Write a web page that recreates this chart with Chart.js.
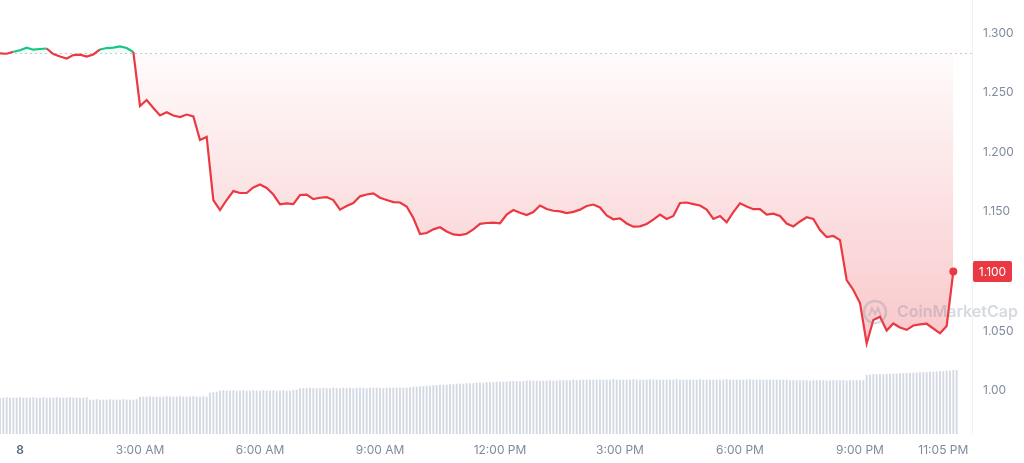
<!DOCTYPE html>
<html lang="en">
<head>
<meta charset="UTF-8">
<title>Price chart</title>
<script src="https://cdn.jsdelivr.net/npm/chart.js"></script>
<style>
  html, body { margin: 0; padding: 0; background: #fff; }
  #wrap { width: 1024px; height: 463px; position: relative; }
</style>
</head>
<body>
<div id="wrap"><canvas id="priceChart"></canvas></div>
<script>
// price every 10 minutes, first sample 11:30 PM of the day before
const priceStartHour = -0.5;
const priceStepHours = 1 / 6;
const prices = [
  1.2830, 1.2826, 1.2843, 1.2855, 1.2877, 1.2860, 1.2866, 1.2870, 1.2824, 1.2803, 1.2786, 1.2815,
  1.2818, 1.2803, 1.2820, 1.2862, 1.2874, 1.2878, 1.2888, 1.2874, 1.2841, 1.2388, 1.2438, 1.2371,
  1.2308, 1.2335, 1.2308, 1.2295, 1.2316, 1.2300, 1.2102, 1.2128, 1.1599, 1.1515, 1.1599, 1.1674,
  1.1658, 1.1658, 1.1704, 1.1729, 1.1700, 1.1645, 1.1563, 1.1570, 1.1565, 1.1641, 1.1645, 1.1607,
  1.1618, 1.1624, 1.1599, 1.1518, 1.1549, 1.1574, 1.1630, 1.1645, 1.1655, 1.1618, 1.1599, 1.1581,
  1.1578, 1.1544, 1.1448, 1.1314, 1.1322, 1.1353, 1.1370, 1.1335, 1.1310, 1.1305, 1.1316, 1.1352,
  1.1399, 1.1406, 1.1409, 1.1404, 1.1477, 1.1515, 1.1492, 1.1473, 1.1498, 1.1553, 1.1523, 1.1509,
  1.1504, 1.1490, 1.1500, 1.1518, 1.1549, 1.1561, 1.1536, 1.1469, 1.1437, 1.1445, 1.1402, 1.1375,
  1.1378, 1.1398, 1.1435, 1.1477, 1.1440, 1.1465, 1.1574, 1.1578, 1.1565, 1.1553, 1.1519, 1.1440,
  1.1465, 1.1412, 1.1498, 1.1571, 1.1544, 1.1522, 1.1523, 1.1477, 1.1484, 1.1465, 1.1402, 1.1377,
  1.1419, 1.1454, 1.1440, 1.1347, 1.1289, 1.1297, 1.1263, 1.0928, 1.0844, 1.0735, 1.0395, 1.0592,
  1.0620, 1.0504, 1.0563, 1.0529, 1.0510, 1.0546, 1.0555, 1.0561, 1.0521, 1.0481, 1.0542, 1.1000
];

// volume bars every 5 minutes (one row = one hour)
const volumeStartHour = -0.5;
const volumeStepHours = 1 / 12;
const volumes = [
  36, 36, 36.5, 36, 36, 36, 36.5, 36, 36, 36, 36.5, 36,
  36, 36.5, 36, 36, 36, 36.5, 36, 36, 36, 36.5, 36, 36,
  36, 36, 36.5, 34, 34, 34.5, 34, 34, 34, 34.5, 34, 34,
  34, 34.5, 34, 34, 34, 34.5, 37, 37, 37, 37.5, 37, 37,
  37, 37, 37.5, 37, 37, 37, 37.5, 37, 37, 37, 37.5, 37,
  37, 37.5, 37, 41, 41.5, 42, 43, 43.5, 43, 43, 43.5, 43,
  43, 43.5, 43, 43, 43.5, 43, 43, 43.5, 43, 43, 43.5, 43,
  43, 43.5, 43, 43, 43.5, 44, 45.5, 45.5, 45.5, 46, 45.5, 45.5,
  45.5, 46, 45.5, 45.5, 46, 45.5, 45.5, 46, 45.5, 46, 45.5, 46,
  46, 46, 45.5, 46, 46, 46, 46, 45.5, 46, 46, 46, 46,
  46, 46, 46, 46.5, 47, 47, 47.5, 47.5, 48, 48, 48.5, 48.5,
  49, 49, 49, 49.5, 49.5, 50, 50, 50, 50.5, 50.5, 50.5, 51,
  51, 51, 51.5, 51.5, 51.5, 52, 52, 52, 52, 52.5, 52.5, 52.5,
  52.5, 52.5, 53, 53, 53, 53, 53, 53, 53, 53.5, 53, 53,
  53.5, 53.5, 53.5, 53.5, 54, 53.5, 54, 54, 54, 54, 54, 54,
  54, 54, 54, 54, 54.5, 54, 54, 54, 54, 54, 54.5, 54,
  54, 54, 54, 54.5, 54, 54, 54, 54, 54, 54, 54, 54.5,
  54, 54, 54, 54, 54, 54, 54.5, 54, 54, 54, 54, 54,
  54, 54, 54.5, 54, 54, 54, 54, 54, 54, 54.5, 54, 54,
  54, 54, 54, 54, 54, 54, 54, 54, 54, 53.5, 53.5, 53.5,
  53.5, 53.5, 53.5, 53, 53.5, 53.5, 53.5, 53.5, 53, 53.5, 53.5, 53.5,
  53.5, 53.5, 53, 53.5, 53.5, 53.5, 53.5, 53.5, 59, 59, 59.5, 59.5,
  59.5, 59.5, 60, 60, 60, 60, 60.5, 60.5, 60.5, 61, 61, 61,
  61.5, 61.5, 61.5, 62, 62, 62, 62.5, 62.5, 63, 63, 63.5, 63.5
];

const openPrice = 1.2833;

const xTickHours = [0, 3, 6, 9, 12, 15, 18, 21, 23.083];
const xTickLabels = ['8', '3:00 AM', '6:00 AM', '9:00 AM', '12:00 PM', '3:00 PM', '6:00 PM', '9:00 PM', '11:05 PM'];
const yTickValues = [1.00, 1.05, 1.10, 1.15, 1.20, 1.25, 1.30];
const yTickLabels = ['1.00', '1.050', '1.100', '1.150', '1.200', '1.250', '1.300'];

const RED = '#ea3943';
const GREEN = '#16c784';
const GREY_TEXT = '#808a9d';

// dotted line at the opening price
const openLine = {
  id: 'openLine',
  beforeDatasetsDraw(chart) {
    const { ctx, chartArea } = chart;
    const y = Math.round(chart.scales.y.getPixelForValue(openPrice)) + 0.5;
    ctx.save();
    ctx.strokeStyle = '#c3c9d3';
    ctx.lineWidth = 1;
    ctx.setLineDash([2, 3]);
    ctx.beginPath();
    ctx.moveTo(chartArea.left, y);
    ctx.lineTo(chartArea.right, y);
    ctx.stroke();
    ctx.restore();
  }
};

// faint CoinMarketCap mark
const watermark = {
  id: 'watermark',
  afterDatasetsDraw(chart) {
    const { ctx } = chart;
    const cx = 875, cy = 312;
    ctx.save();
    ctx.strokeStyle = 'rgba(128,138,157,0.3)';
    ctx.lineWidth = 2.5;
    ctx.beginPath();
    ctx.arc(cx, cy, 11, 0, Math.PI * 2);
    ctx.stroke();
    ctx.lineWidth = 2;
    ctx.beginPath();
    ctx.moveTo(cx - 6, cy + 4);
    ctx.lineTo(cx - 3, cy - 4);
    ctx.lineTo(cx, cy + 2);
    ctx.lineTo(cx + 3, cy - 4);
    ctx.lineTo(cx + 6, cy + 4);
    ctx.stroke();
    ctx.fillStyle = 'rgba(128,138,157,0.32)';
    ctx.font = '600 16px Inter';
    ctx.textBaseline = 'middle';
    ctx.fillText('CoinMarketCap', 897, cy);
    ctx.restore();
  }
};

// red box with the last price on the axis
const lastPriceTag = {
  id: 'lastPriceTag',
  afterDraw(chart) {
    const { ctx, chartArea } = chart;
    const last = prices[prices.length - 1];
    const y = chart.scales.y.getPixelForValue(last);
    const x = chartArea.right + 1;
    ctx.save();
    ctx.fillStyle = RED;
    ctx.beginPath();
    ctx.roundRect(x, y - 10.5, 39, 21, 2);
    ctx.fill();
    ctx.fillStyle = '#fff';
    ctx.font = '12px Inter';
    ctx.textAlign = 'center';
    ctx.textBaseline = 'middle';
    ctx.fillText(last.toFixed(3), x + 19.5, y + 0.5);
    ctx.restore();
  }
};

const chart = new Chart(document.getElementById('priceChart'), {
  data: {
    datasets: [
      {
        type: 'line',
        label: 'Price',
        data: prices.map((p, i) => ({ x: priceStartHour + i * priceStepHours, y: p })),
        yAxisID: 'y',
        borderColor: RED,
        borderWidth: 2.2,
        tension: 0,
        pointRadius: ctx => ctx.dataIndex === prices.length - 1 ? 4 : 0,
        pointBackgroundColor: RED,
        pointBorderWidth: 0,
        fill: { target: { value: openPrice }, above: 'rgba(22,199,132,0.06)', below: 'rgba(234,57,67,0.12)' },
        segment: {
          borderColor: ctx => (ctx.p0.parsed.y >= openPrice && ctx.p1.parsed.y >= openPrice) ? GREEN : RED
        },
        order: 1
      },
      {
        type: 'bar',
        label: 'Volume',
        data: volumes.map((v, i) => ({ x: volumeStartHour + i * volumeStepHours, y: v })),
        yAxisID: 'y2',
        backgroundColor: '#d3d9e3',
        barThickness: 1.2,
        order: 2
      }
    ]
  },
  options: {
    responsive: true,
    maintainAspectRatio: false,
    animation: false,
    layout: { padding: 0, autoPadding: false },
    plugins: { legend: { display: false }, tooltip: { enabled: false } },
    scales: {
      x: {
        type: 'linear',
        offset: false,
        min: -0.5,
        max: 23.8,
        grid: { display: false, drawTicks: false, offset: false },
        border: { display: false },
        afterBuildTicks: scale => { scale.ticks = xTickHours.map(v => ({ value: v })); },
        afterFit: scale => { scale.height = 29; scale.paddingLeft = 0; scale.paddingRight = 0; },
        ticks: {
          autoSkip: false,
          maxRotation: 0,
          padding: 9,
          color: ctx => ctx.index === 0 ? '#58667e' : GREY_TEXT,
          font: ctx => ctx.index === 0 ? { family: 'Inter', size: 12, weight: '600' } : { family: 'Inter', size: 12 },
          callback: (value, index) => xTickLabels[index]
        }
      },
      y: {
        type: 'linear',
        position: 'right',
        min: 0.9636,
        max: 1.3277,
        grid: { display: false, drawTicks: false },
        border: { display: true, color: '#eff2f5' },
        afterBuildTicks: scale => { scale.ticks = yTickValues.map(v => ({ value: v })); },
        afterFit: scale => { scale.width = 52; scale.paddingTop = 0; scale.paddingBottom = 0; },
        ticks: {
          padding: 11,
          color: GREY_TEXT,
          font: { family: 'Inter', size: 12 },
          callback: (value, index) => yTickLabels[index]
        }
      },
      y2: {
        type: 'linear',
        display: false,
        min: 0,
        max: 434
      }
    }
  },
  plugins: [openLine, watermark, lastPriceTag]
});

// fade the red area from the opening price line downwards
const grad = chart.ctx.createLinearGradient(0, chart.scales.y.getPixelForValue(openPrice), 0, chart.scales.y.getPixelForValue(1.04));
grad.addColorStop(0, 'rgba(234,57,67,0.02)');
grad.addColorStop(1, 'rgba(234,57,67,0.28)');
chart.data.datasets[0].fill.below = grad;
chart.update('none');
</script>
</body>
</html>
